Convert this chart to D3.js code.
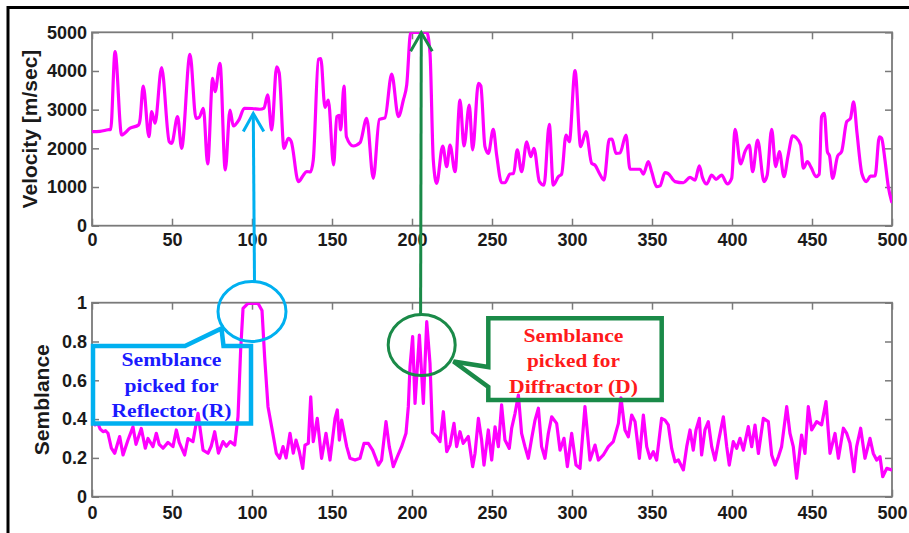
<!DOCTYPE html>
<html>
<head>
<meta charset="utf-8">
<script src="https://cdn.jsdelivr.net/npm/d3@7"></script>
<style>
  body { margin: 0; background: #fff; }
  svg { display: block; }
</style>
</head>
<body>
<svg id="chart" width="909" height="533"></svg>
<script>
// Tick values
const traceTicks = [0, 50, 100, 150, 200, 250, 300, 350, 400, 450, 500];
const velocityTicks = [0, 1000, 2000, 3000, 4000, 5000];
const semblanceTicks = [0, 0.2, 0.4, 0.6, 0.8, 1];

// Picked velocity along the traces
const velTrace = [0, 5, 10, 11.7, 14.4, 18.5, 23.8, 29, 30, 32, 35.6, 37.3, 39.4, 43.5, 48.3, 49.8, 53.5, 56,
  61.25, 65, 67, 69.6, 72.3, 75.4, 76.9, 80, 83.3, 86.25, 88.3, 92, 95.2, 100, 105, 107.5, 109.8, 112.3,
  115.4, 117, 120, 122.7, 124.5, 129, 132, 134.2, 136.5, 138.3, 141.5, 143, 145.6, 147.7, 151, 153, 154.5,
  155.4, 157.5, 159, 163.3, 167.5, 171.7, 175.8, 179.6, 183.1, 187.3, 191.5, 194.6, 196.7, 199.2, 209.2,
  211.25, 213.3, 215.4, 219.2, 221.7, 223.75, 226.9, 230, 232.5, 235.8, 237.9, 241.5, 243, 245.6, 247.7,
  250.8, 252.9, 256, 258, 261.25, 263.5, 265.8, 268.5, 271.7, 274.2, 276.25, 279.6, 282.5, 285.8, 288.3,
  291.5, 293.5, 296.25, 298.3, 301.9, 305.4, 308.75, 312.3, 314.5, 317.1, 320, 323.3, 325, 327.5, 330,
  333.75, 336.25, 342.5, 344.6, 347.7, 349.8, 352.9, 355, 358.1, 360, 364.4, 369.6, 373.75, 376.9, 379.6,
  381.5, 384.2, 387.3, 390, 393.5, 397, 399.8, 401.9, 405.4, 408.1, 410.8, 412.9, 416, 420, 422, 424.8,
  427.3, 429.6, 432.5, 435, 437.9, 440, 442.9, 444.6, 447.1, 449.5, 452.5, 454.5, 456, 457.7, 459.6, 461,
  462.9, 466, 468.5, 471.7, 474, 476, 478.1, 481.25, 484, 486.5, 489.4, 492.1, 493.5, 495.6, 497.7, 499.8];
const velocity = [2430, 2440, 2480, 2490, 4500, 2345, 2520, 2600, 2730, 3610, 2300, 2950, 2650, 4085, 2170, 2130, 2820, 2000,
  4430, 2775, 2800, 3035, 1595, 3810, 3465, 4200, 1440, 2990, 2580, 2750, 3035, 3030, 3010, 3040, 3380, 2475,
  4110, 3950, 2000, 2260, 2180, 1140, 1300, 1400, 1390, 1700, 4300, 4320, 3060, 3250, 1570, 2820, 2850,
  2475, 3610, 2300, 2060, 2145, 2775, 1225, 2750, 2790, 3920, 2820, 3250, 3640, 5000, 5000,
  4460, 1700, 1095, 2060, 1525, 2085, 1395, 3250, 2060, 3120, 1960, 3680, 3620, 2045, 1870,
  2490, 1830, 1110, 1110, 1335, 1350, 1960, 1395, 2170, 1785, 2000, 1140, 1050, 2620, 1050,
  1270, 1330, 2345, 2170, 4010, 2045, 2430, 1610, 1560, 1355, 1180, 2235, 2240, 1870, 1880,
  2345, 1460, 1460, 1335, 1655, 1395, 1010, 1030, 1370, 1350, 1140, 1110, 1250, 1180, 1550,
  1250, 1080, 1310, 1200, 1310, 1080, 1225, 2490, 1595, 1915, 2085, 1395, 2215, 1140, 1310, 2490,
  1525, 1915, 1270, 1800, 2320, 2280, 2085, 1485, 1655, 1500, 1270, 1330, 2820, 2905, 1915, 1800,
  1225, 1800, 1915, 2690, 2770, 3205, 2405, 1335, 1140, 1280, 1285, 2300, 2260, 1700, 1010, 620];

// Semblance along the traces
const sembTrace = [0, 2, 3.75, 5, 6.9, 8.5, 10, 12.1, 14.2, 17.3, 19.4, 22.5, 25.6, 27.5, 30.8, 33.3, 35, 38.1,
  40.2, 42, 44.4, 47.5, 50.6, 52.7, 54.5, 57.9, 60, 63.1, 66.25, 69.4, 72.5, 74.5, 76.7, 79, 81.9, 84,
  86.4, 89.2, 91.25, 92.9, 94.4, 97.5, 103.75, 106.25, 107.9, 110, 113, 115.2, 117.3, 119.4, 121.3,
  123.75, 125.8, 127.5, 129.6, 131.7, 133.1, 135.2, 136.7, 138.3, 140.8, 143.5, 146.25, 148.75, 151.9,
  153.3, 154.6, 156, 159.2, 161.25, 164.4, 167.5, 170, 172.7, 175.4, 179, 181, 183.75, 185.8, 188.3,
  190.8, 193.5, 196.25, 197.7, 198.75, 200.4, 201.9, 204.6, 207.1, 209.2, 211.25, 212.8, 215.4, 217.5,
  219.6, 221.7, 223.75, 226.25, 227.9, 230, 232, 235.2, 237.9, 239.4, 241.5, 243.5, 245, 247.7, 249.8,
  251.9, 254, 256, 258.1, 260.8, 262.3, 264.4, 266.5, 268.5, 270.6, 272.7, 274.8, 276.9, 279, 281,
  283.1, 285.2, 287.3, 290.4, 292.5, 295, 297.1, 299.8, 302.5, 305, 308.1, 311.25, 314.4, 316.5, 319.6,
  322.7, 325.8, 329, 330.6, 333.1, 335.2, 337.3, 339.4, 342.1, 344.6, 346.7, 348.75, 350.8, 352.9, 356,
  358.1, 360.2, 362.3, 364.4, 366.5, 369.6, 371.7, 373.75, 375.8, 377.5, 379.6, 381, 383.1, 385.2,
  387.3, 389.4, 391.5, 394.6, 396.7, 398.3, 400.8, 402.9, 405, 407.1, 410.2, 412.3, 414.4, 416.5,
  419.6, 422.7, 424.8, 426.9, 429, 431, 434.2, 436.25, 438.3, 440.4, 443.5, 445.6, 447.7, 449.8, 452.9,
  456, 458.75, 461.25, 464.4, 466.5, 469.6, 471.7, 473.75, 476.25, 477.9, 480.4, 483.1, 486.25, 488.3,
  490.4, 492.5, 494.2, 496.7, 499.8];
const semblance = [0.40, 0.37, 0.378, 0.35, 0.335, 0.34, 0.327, 0.25, 0.224, 0.31, 0.215, 0.292, 0.36, 0.27, 0.352, 0.25, 0.30, 0.258,
  0.327, 0.27, 0.25, 0.28, 0.258, 0.344, 0.28, 0.215, 0.30, 0.284, 0.43, 0.24, 0.224, 0.26, 0.335, 0.225, 0.284, 0.26,
  0.284, 0.266, 0.412, 0.756, 0.971, 0.997, 0.997, 0.96, 0.72, 0.464, 0.327, 0.224, 0.198, 0.258, 0.2,
  0.327, 0.224, 0.292, 0.232, 0.146, 0.266, 0.275, 0.515, 0.284, 0.404, 0.198, 0.327, 0.189, 0.404,
  0.447, 0.292, 0.395, 0.258, 0.198, 0.189, 0.198, 0.275, 0.275, 0.24, 0.163, 0.189, 0.387, 0.258, 0.155,
  0.206, 0.258, 0.327, 0.464, 0.67, 0.825, 0.481, 0.833, 0.481, 0.902, 0.687, 0.33, 0.31, 0.284,
  0.438, 0.232, 0.266, 0.378, 0.258, 0.335, 0.275, 0.31, 0.155, 0.224, 0.404, 0.292, 0.163, 0.344, 0.189,
  0.36, 0.258, 0.473, 0.292, 0.249, 0.353, 0.43, 0.524, 0.326, 0.258, 0.198, 0.301, 0.395, 0.456, 0.258,
  0.198, 0.326, 0.412, 0.378, 0.24, 0.301, 0.155, 0.326, 0.163, 0.146, 0.464, 0.189, 0.266, 0.189, 0.215,
  0.258, 0.284, 0.378, 0.51, 0.344, 0.309, 0.421, 0.387, 0.198, 0.421, 0.258, 0.198, 0.232, 0.189, 0.404,
  0.395, 0.37, 0.249, 0.18, 0.189, 0.138, 0.258, 0.344, 0.24, 0.344, 0.404, 0.215, 0.344, 0.387,
  0.258, 0.189, 0.284, 0.412, 0.258, 0.163, 0.284, 0.249, 0.301, 0.24, 0.361, 0.258, 0.369, 0.223,
  0.404, 0.387, 0.215, 0.163, 0.206, 0.258, 0.464, 0.326, 0.258, 0.095, 0.318, 0.223, 0.464, 0.344, 0.387,
  0.37, 0.49, 0.223, 0.326, 0.198, 0.353, 0.326, 0.275, 0.129, 0.258, 0.353, 0.198, 0.301, 0.223,
  0.189, 0.206, 0.103, 0.146, 0.138];

const svg = d3.select("#chart");
svg.append("rect").attr("width", 909).attr("height", 533).attr("fill", "#fff");

const FONT = "'Liberation Sans', Arial, sans-serif";
const SERIF = "'Liberation Serif', 'Times New Roman', serif";
const CURVE = "#ff00ff";
const AXIS = "#7a7a7a";
const LABEL = "#1a1a1a";

// Outer frame (top and left edges)
svg.append("path").attr("d", "M8,533V7.5H909")
  .attr("fill", "none").attr("stroke", "#000").attr("stroke-width", 3);

function panel(id, yDomain, yRange, yTicks, yFmt, xPad, yTitle, titleX, traces, values, curve) {
  const x = d3.scaleLinear().domain([0, 500]).range([92, 892]);
  const y = d3.scaleLinear().domain(yDomain).range(yRange);
  const g = svg.append("g");

  g.append("clipPath").attr("id", id).append("rect")
    .attr("x", 92).attr("y", yRange[1]).attr("width", 800).attr("height", yRange[0] - yRange[1]);

  const style = sel => {
    sel.attr("font-family", FONT).attr("font-size", 18).attr("font-weight", "bold");
    sel.selectAll(".domain").remove();
    sel.selectAll(".tick line").attr("stroke", AXIS).attr("stroke-width", 1.5);
    sel.selectAll(".tick text").attr("fill", LABEL);
  };

  g.append("g").attr("transform", `translate(0,${yRange[0]})`)
    .call(d3.axisBottom(x).tickValues(traceTicks).tickSizeInner(-7).tickSizeOuter(0).tickPadding(xPad))
    .call(style);
  g.append("g").attr("transform", `translate(0,${yRange[1]})`)
    .call(d3.axisTop(x).tickValues(traceTicks).tickSizeInner(-7).tickSizeOuter(0).tickFormat(""))
    .call(style);
  g.append("g").attr("transform", "translate(92,0)")
    .call(d3.axisLeft(y).tickValues(yTicks).tickSizeInner(-7).tickSizeOuter(0).tickPadding(5).tickFormat(yFmt))
    .call(style);
  g.append("g").attr("transform", "translate(892,0)")
    .call(d3.axisRight(y).tickValues(yTicks).tickSizeInner(-7).tickSizeOuter(0).tickFormat(""))
    .call(style);

  g.append("rect").attr("x", 92).attr("y", yRange[1]).attr("width", 800).attr("height", yRange[0] - yRange[1])
    .attr("fill", "none").attr("stroke", AXIS).attr("stroke-width", 1.8);

  const line = d3.line().curve(curve).x((d, i) => x(traces[i])).y(d => y(d));
  g.append("path").datum(values)
    .attr("clip-path", `url(#${id})`)
    .attr("d", line)
    .attr("fill", "none").attr("stroke", CURVE).attr("stroke-width", 3.2)
    .attr("stroke-linejoin", "round").attr("stroke-linecap", "round");

  const cy = (yRange[0] + yRange[1]) / 2;
  g.append("text")
    .attr("transform", `translate(${titleX},${cy}) rotate(-90)`)
    .attr("text-anchor", "middle")
    .attr("font-family", FONT).attr("font-size", 21).attr("font-weight", "bold")
    .attr("fill", LABEL).text(yTitle);
  return { x, y };
}

const velPanel = panel("clipVel", [0, 5000], [225.7, 32.3], velocityTicks, d => String(d), 8,
  "Velocity [m/sec]", 37, velTrace, velocity, d3.curveMonotoneX);
const sembPanel = panel("clipSemb", [0, 1], [496.7, 302.7], semblanceTicks, d => String(d), 10,
  "Semblance", 49, sembTrace, semblance, d3.curveLinear);

// Annotations
const ann = svg.append("g").attr("fill", "none");
const CYAN = "#00b0f0";
const GREEN = "#1a8a48";

// Reflector: ellipse, callout box, arrow to picked velocity
const rTip = [velPanel.x(100.8), velPanel.y(2900)];
ann.append("ellipse").attr("cx", sembPanel.x(100)).attr("cy", 311.5).attr("rx", 34).attr("ry", 30)
  .attr("stroke", CYAN).attr("stroke-width", 3);
ann.append("path")
  .attr("d", "M93,346H185L221.5,328.5L223.5,346H251V423.5H93Z")
  .attr("stroke", CYAN).attr("stroke-width", 4.5).attr("stroke-linejoin", "miter");
ann.append("path")
  .attr("d", `M254.5,281.5L${rTip[0]},${rTip[1]}`)
  .attr("stroke", CYAN).attr("stroke-width", 3);
ann.append("path")
  .attr("d", `M${rTip[0] - 10},${rTip[1] + 18}L${rTip[0]},${rTip[1]}L${rTip[0] + 10.5},${rTip[1] + 18}`)
  .attr("stroke", CYAN).attr("stroke-width", 3).attr("stroke-linejoin", "miter");

// Diffractor: ellipse, callout box, arrow to picked velocity
const dTip = [velPanel.x(205.8), velPanel.y(4990)];
ann.append("ellipse").attr("cx", 421.7).attr("cy", 345).attr("rx", 33.5).attr("ry", 30.5)
  .attr("stroke", GREEN).attr("stroke-width", 3);
ann.append("path")
  .attr("d", "M488.3,318.3H661.7V400H488.3V387L453.5,361.5L488.3,367Z")
  .attr("stroke", GREEN).attr("stroke-width", 4.5).attr("stroke-linejoin", "miter");
ann.append("path")
  .attr("d", `M420.6,314.5L${dTip[0]},${dTip[1]}`)
  .attr("stroke", GREEN).attr("stroke-width", 3);
ann.append("path")
  .attr("d", `M${dTip[0] - 10.7},${dTip[1] + 18.5}L${dTip[0]},${dTip[1]}L${dTip[0] + 11},${dTip[1] + 18.5}`)
  .attr("stroke", GREEN).attr("stroke-width", 3).attr("stroke-linejoin", "miter");

function callText(lines, cx, baselines, widths, color) {
  lines.forEach((t, i) => {
    svg.append("text")
      .attr("x", cx).attr("y", baselines[i])
      .attr("text-anchor", "middle")
      .attr("font-family", SERIF).attr("font-size", 19).attr("font-weight", "bold")
      .attr("fill", color)
      .attr("textLength", widths[i]).attr("lengthAdjust", "spacingAndGlyphs")
      .text(t);
  });
}
callText(["Semblance", "picked for", "Reflector (R)"], 171.5, [366, 391.5, 417], [100, 94, 120], "#1a1aff");
callText(["Semblance", "picked for", "Diffractor (D)"], 573.5, [341.5, 367.3, 393.3], [100, 93, 129], "#ff1a1a");
</script>
</body>
</html>
